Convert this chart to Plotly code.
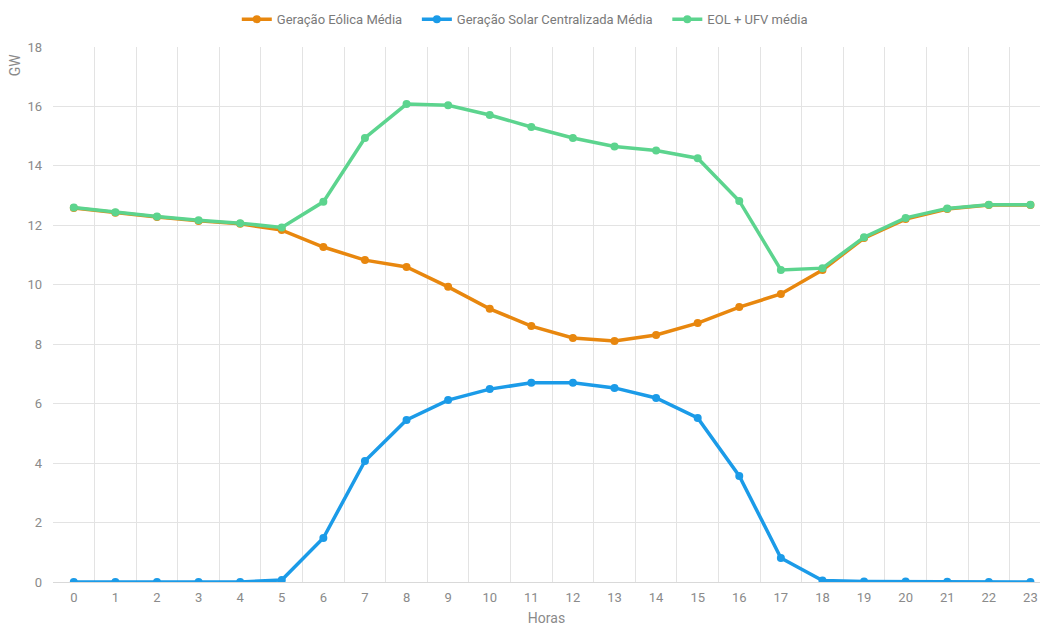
import plotly.graph_objects as go

horas = list(range(24))
eolica = [12.58, 12.42, 12.28, 12.15, 12.05, 11.84, 11.27, 10.83, 10.60, 9.93, 9.19, 8.61,
          8.21, 8.11, 8.31, 8.71, 9.25, 9.69, 10.50, 11.57, 12.21, 12.55, 12.68, 12.68]
solar = [0.0, 0.0, 0.0, 0.0, 0.0, 0.07, 1.48, 4.07, 5.45, 6.12, 6.49, 6.70,
         6.70, 6.53, 6.19, 5.52, 3.57, 0.81, 0.05, 0.02, 0.02, 0.01, 0.0, 0.0]
eol_ufv = [12.60, 12.44, 12.30, 12.17, 12.07, 11.93, 12.79, 14.94, 16.08, 16.04, 15.71, 15.31,
           14.94, 14.65, 14.52, 14.26, 12.82, 10.50, 10.56, 11.60, 12.25, 12.57, 12.69, 12.69]

series = [
    ("Geração Eólica Média   ", eolica, "#E8870E"),
    ("Geração Solar Centralizada Média   ", solar, "#1B9BE8"),
    ("EOL + UFV média", eol_ufv, "#5CD48E"),
]

fig = go.Figure()
for name, vals, color in series:
    fig.add_trace(go.Scatter(
        x=horas, y=vals, name=name, mode="lines+markers",
        line=dict(color=color, width=3.5),
        marker=dict(color=color, size=8),
    ))

font_fam = "Roboto, Lato, sans-serif"
fig.update_layout(
    width=1040, height=626,
    margin=dict(l=53, r=0, t=47, b=44, autoexpand=False),
    plot_bgcolor="white", paper_bgcolor="white",
    font=dict(family=font_fam, color="#8a8a8a", size=13),
    showlegend=True,
    legend=dict(orientation="h", x=0.478, xanchor="center", y=1.052, yanchor="middle",
                font=dict(size=13, color="#7a7a7a"), itemwidth=30, tracegroupgap=0),
    xaxis=dict(
        range=[-0.5, 23.23], tickmode="array", tickvals=horas,
        ticktext=[str(h) for h in horas],
        showgrid=False, zeroline=False, automargin=False, ticklabeloverflow="allow",
        showline=True, linecolor="#d9d9d9", linewidth=1,
        ticks="", ticklabelstandoff=3, tickfont=dict(size=13, color="#8a8a8a"),
        minor=dict(tick0=0.5, dtick=1, showgrid=True, gridcolor="#e3e3e3", gridwidth=1, ticks=""),
        title=dict(text="Horas", font=dict(size=14, color="#8a8a8a"), standoff=12),
    ),
    yaxis=dict(
        range=[0, 18], tickmode="array", tickvals=list(range(0, 19, 2)),
        showgrid=True, gridcolor="#e3e3e3", gridwidth=1, zeroline=False,
        showline=False, ticks="", ticklabelstandoff=10, automargin=False,
        tickfont=dict(size=13, color="#8a8a8a"),
    ),
    annotations=[dict(text="GW", xref="paper", yref="paper", x=-0.0385, y=0.966,
                      xanchor="center", yanchor="middle", textangle=-90, showarrow=False,
                      font=dict(size=14, color="#8a8a8a"))],
)
fig.write_html("out.html", config={"displayModeBar": False},
               post_script="document.body.style.margin='0';document.body.style.overflow='hidden';")
